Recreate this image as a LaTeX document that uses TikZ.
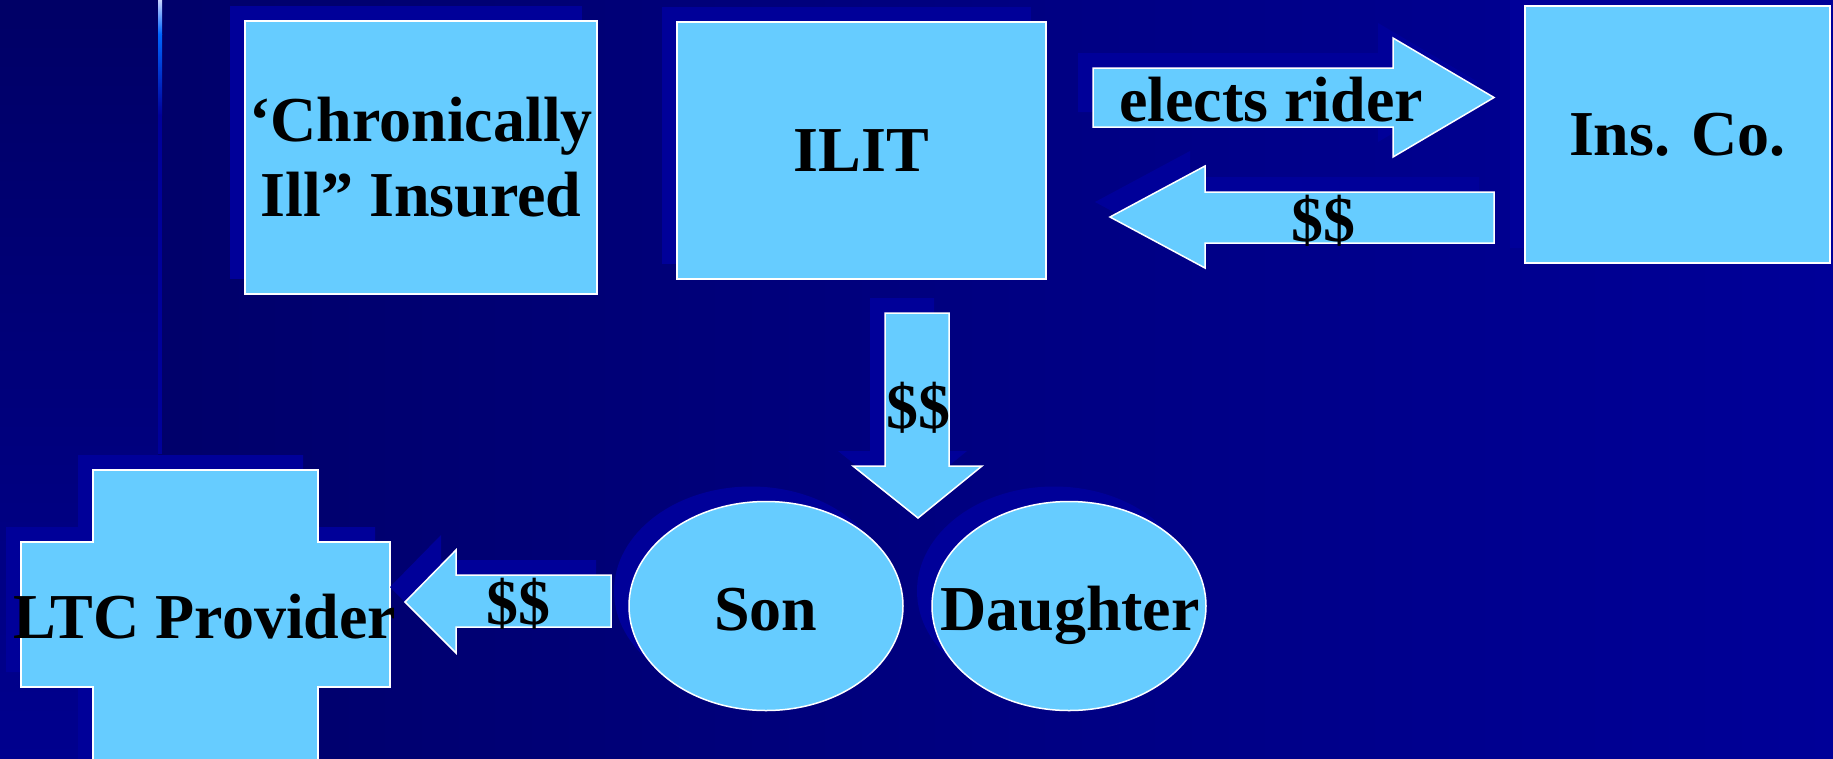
\documentclass[tikz,border=0pt]{standalone}
\usepackage{fontspec}
\setmainfont{Liberation Serif}
\usepackage{tikz}
\usetikzlibrary{shadows}
\definecolor{boxblue}{RGB}{102,204,255}
\definecolor{shadowblue}{RGB}{0,0,153}
\definecolor{bgleft}{RGB}{0,0,102}
\definecolor{bgright}{RGB}{0,0,152}
\definecolor{stripblue}{RGB}{0,0,142}
\definecolor{glowblue}{RGB}{0,102,255}
\definecolor{glowtop}{RGB}{200,210,255}
\tikzset{
  part/.style={fill=boxblue, draw=white, line width=1.5pt,
    drop shadow={shadow xshift=-15pt, shadow yshift=15pt, fill=shadowblue, opacity=1}},
  box/.style={part, rectangle, inner sep=0pt, align=center,
    font=\bfseries\fontsize{64}{75}\selectfont},
  lbl/.style={font=\bfseries\fontsize{64}{75}\selectfont, text=black, inner sep=0pt}
}

\begin{document}
\begin{tikzpicture}[x=1pt, y=-1pt]
        \useasboundingbox (0,0) rectangle (1833,758);
        % Slide background
        \shade[left color=bgleft, right color=bgright] (0,0) rectangle (1833,758);
        \shade[top color=bgleft, bottom color=stripblue] (0,0) rectangle (158,758);
        % Thin rule at the left
        \shade[top color=glowtop, bottom color=glowblue] (158,0) rectangle (162,34);
        \shade[top color=glowblue, bottom color=shadowblue] (158,34) rectangle (162,115);
        \fill[shadowblue] (158,115) rectangle (162,454);
        % Top row boxes
        \node[box, minimum width=352pt, minimum height=273pt] (insured) at (421,157.5) {‘Chronically\\ Ill” Insured};
        \node[box, minimum width=369pt, minimum height=257pt] (ilit) at (861.5,150.5) {ILIT};
        \node[box, minimum width=305pt, minimum height=257pt] (insco) at (1677.5,134.5) {Ins. Co.};
        % ILIT -> Ins. Co. arrow
        \path[part] (1093,68) -- (1393,68) -- (1393,38) -- (1494,97.5) -- (1393,157) -- (1393,127) -- (1093,127) -- cycle;
        \node[lbl, anchor=base] (rider) at (1271,121) {elects rider};
        % Ins. Co. -> ILIT arrow
        \path[part] (1494,192) -- (1205,192) -- (1205,166) -- (1110,217) -- (1205,268) -- (1205,243) -- (1494,243) -- cycle;
        \node[lbl] (payout) at (1323,221) {\$\$};
        % ILIT -> children arrow
        \path[part] (885,313) -- (949,313) -- (949,466) -- (982,466) -- (918,518) -- (853,466) -- (885,466) -- cycle;
        \node[lbl] (payfamily) at (918,408) {\$\$};
        % Children
        \path[part] (766,606) ellipse [x radius=137pt, y radius=104.5pt];
        \node[lbl, anchor=base] (son) at (766,630) {Son};
        \path[part] (1069,606) ellipse [x radius=137pt, y radius=104.5pt];
        \node[lbl, anchor=base] (daughter) at (1070,630) {Daughter};
        % Provider cross
        \path[part] (93,470) -- (318,470) -- (318,542) -- (390,542) -- (390,687) -- (318,687) -- (318,775)
          -- (93,775) -- (93,687) -- (21,687) -- (21,542) -- (93,542) -- cycle;
        \node[lbl, anchor=base] (ltc) at (205,638) {LTC Provider};
        % Son -> provider arrow
        \path[part] (611,575) -- (456,575) -- (456,550) -- (405,602) -- (456,653) -- (456,627) -- (611,627) -- cycle;
        \node[lbl] (paycare) at (518,604) {\$\$};
\end{tikzpicture}
\end{document}
